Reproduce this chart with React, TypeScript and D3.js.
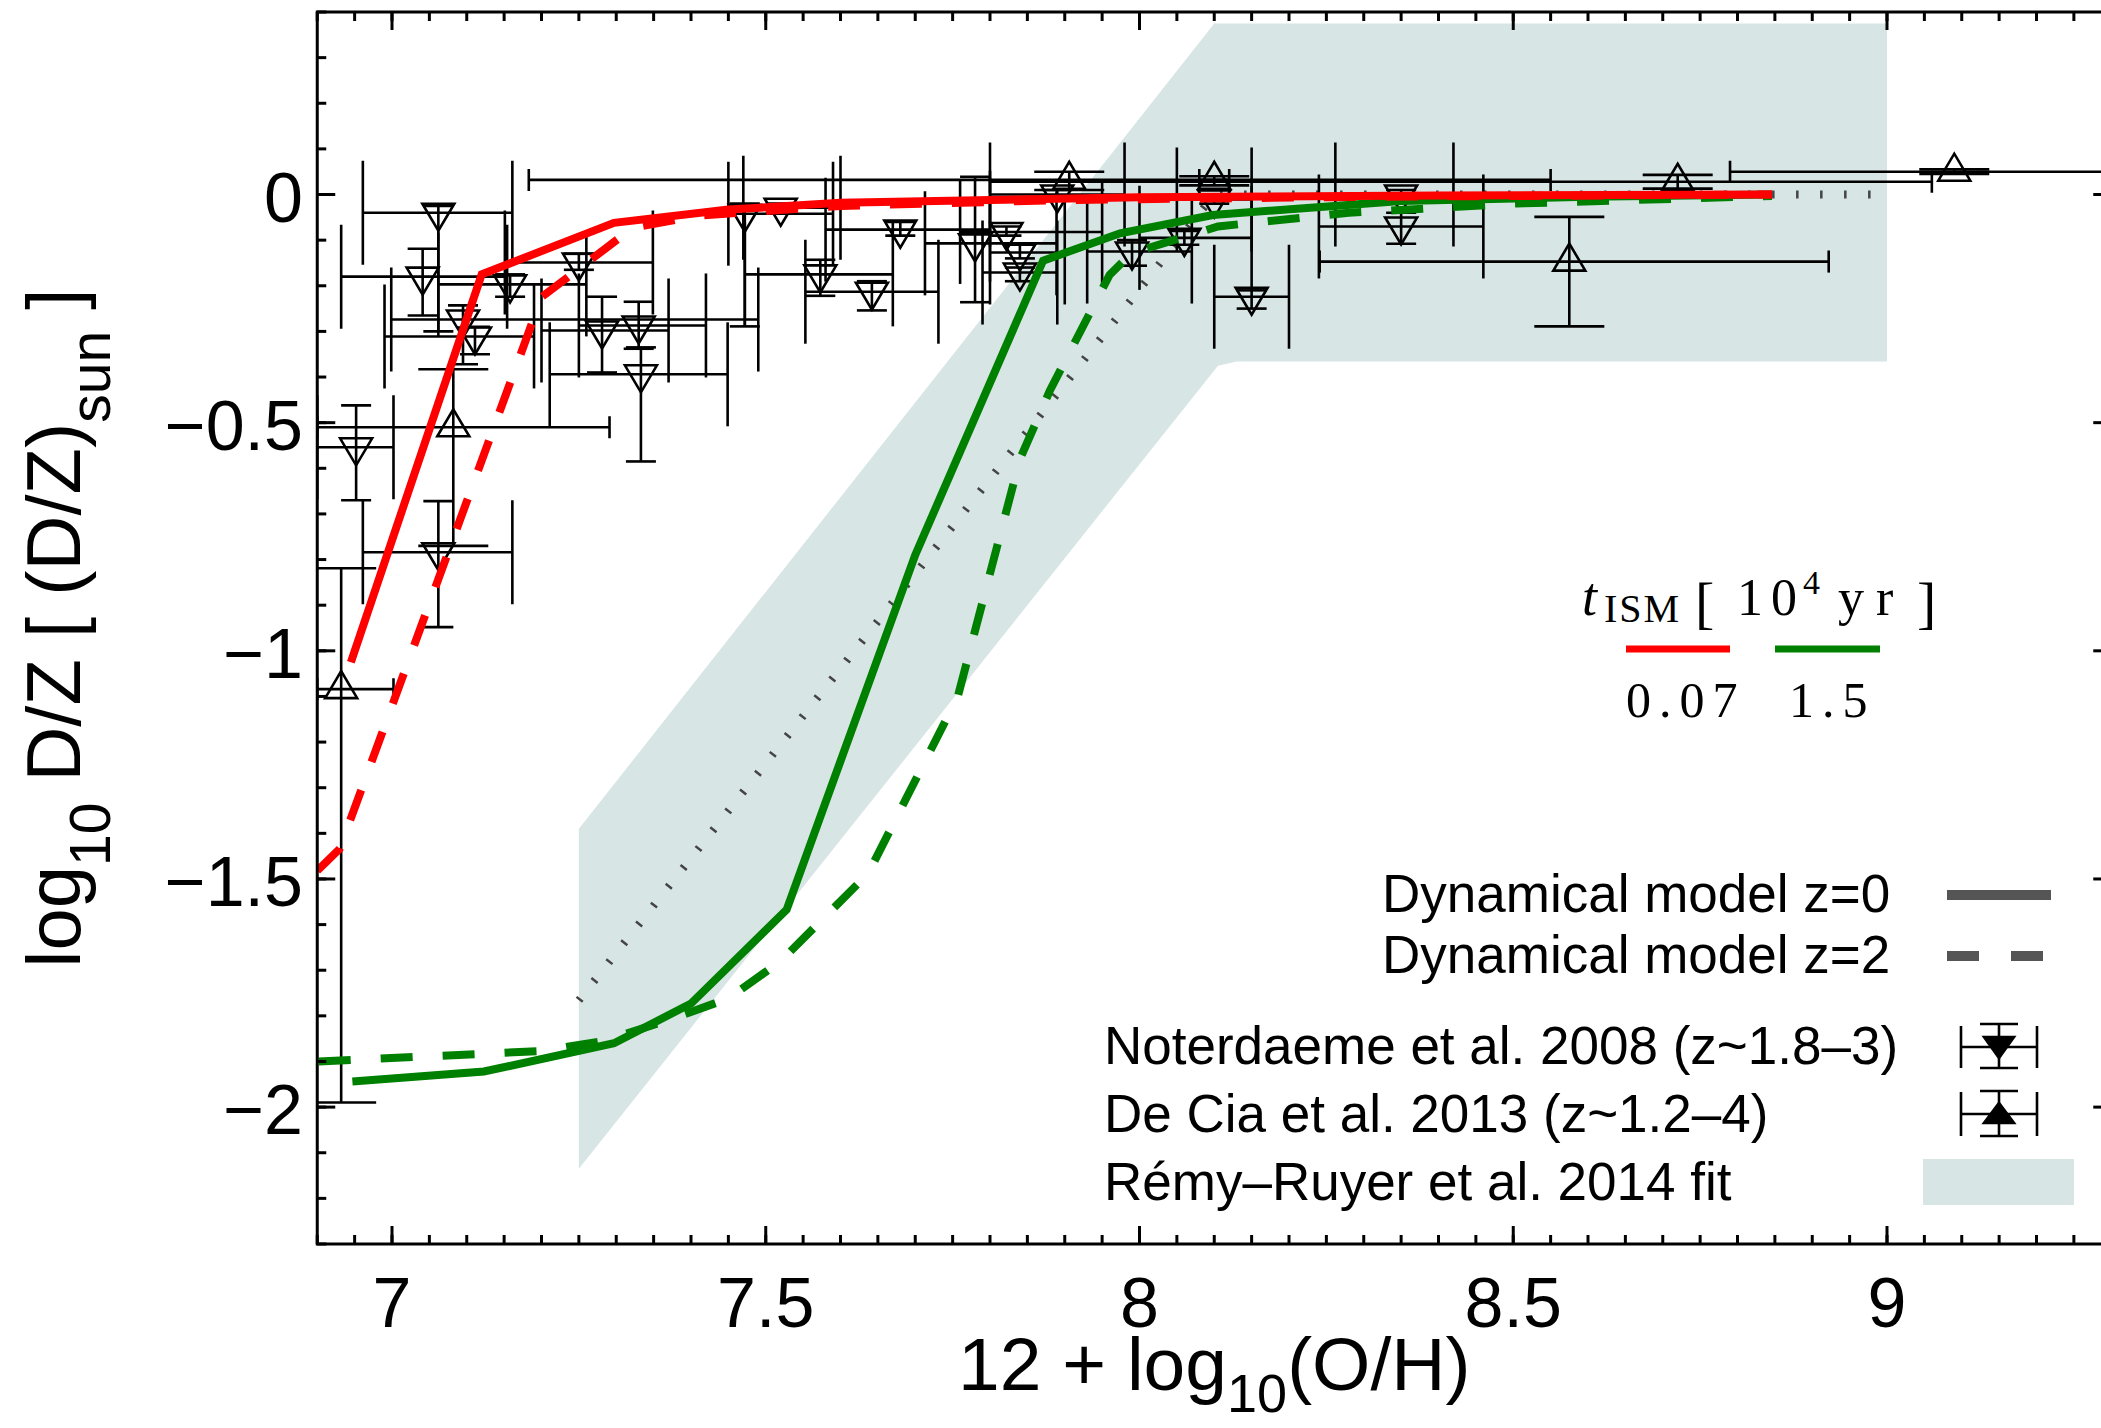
import * as d3 from "d3";
import React from "react";

// axis ranges and ticks
const xDomain = [6.9, 9.3];
const yDomain = [-2.3, 0.4];
const xMajor = [7, 7.5, 8, 8.5, 9];
const xMajorLabels = ["7", "7.5", "8", "8.5", "9"];
const yMajor = [0, -0.5, -1, -1.5, -2];
const yMajorLabels = ["0", "\u22120.5", "\u22121", "\u22121.5", "\u22122"];

// dynamical model, [12+log(O/H), log D/Z]
const redZ0 = [
  [6.945, -1.025], [7.12, -0.175], [7.297, -0.062], [7.45, -0.033],
  [7.6, -0.018], [8.0, -0.006], [8.4, -0.002], [8.846, 0.0],
];
const redZ2 = [
  [6.9, -1.482], [6.93, -1.434], [7.2, -0.225], [7.322, -0.073],
  [7.412, -0.046], [7.6, -0.025], [7.9, -0.012], [8.3, -0.005], [8.846, 0.0],
];
const greenZ0 = [
  [6.947, -1.944], [7.123, -1.922], [7.297, -1.86], [7.4, -1.773],
  [7.528, -1.567], [7.7, -0.79], [7.871, -0.145], [7.974, -0.085],
  [8.098, -0.045], [8.35, -0.014], [8.6, -0.005], [8.846, 0.0],
];
const greenZ2 = [
  [6.902, -1.9], [7.2, -1.877], [7.284, -1.855], [7.368, -1.81],
  [7.45, -1.762], [7.52, -1.68], [7.637, -1.488], [7.757, -1.1],
  [7.84, -0.58], [7.88, -0.43], [7.96, -0.176], [7.99, -0.128],
  [8.07, -0.088], [8.105, -0.07], [8.28, -0.04], [8.5, -0.02], [8.846, -0.003],
];

// Remy-Ruyer et al. 2014 fit: centre line and scatter band
const fitCentre = [[7.25, -1.766], [8.1, 0.0], [9.0, 0.0]];
const fitBand = [
  [7.25, -1.39], [8.1, 0.375], [9.0, 0.375], [9.0, -0.366],
  [8.13, -0.366], [8.105, -0.375], [7.25, -2.135],
];

// observations: [x, y, xlo, xhi, ylo, yhi]
const noterdaeme = [
  [7.062, -0.04, 6.961, 7.161, -0.3, -0.025],
  [7.041, -0.18, 6.932, 7.154, -0.265, -0.119],
  [7.095, -0.274, 6.999, 7.49, -0.372, -0.243],
  [7.111, -0.311, 6.99, 7.19, -0.35, -0.29],
  [7.158, -0.197, 7.062, 7.26, -0.224, -0.175],
  [7.25, -0.149, 7.151, 7.349, -0.165, -0.13],
  [7.281, -0.298, 7.2, 7.37, -0.39, -0.224],
  [7.33, -0.287, 7.25, 7.42, -0.338, -0.235],
  [7.333, -0.394, 7.211, 7.449, -0.585, -0.335],
  [6.952, -0.554, 6.9, 7.002, -0.67, -0.462],
  [7.062, -0.784, 6.961, 7.161, -0.948, -0.672],
  [7.472, -0.042, 7.45, 7.59, -0.289, -0.02],
  [7.52, -0.029, 7.47, 7.6, -0.04, -0.02],
  [7.573, -0.175, 7.472, 7.67, -0.222, -0.143],
  [7.642, -0.213, 7.553, 7.731, -0.254, -0.19],
  [7.68, -0.077, 7.58, 7.8, -0.09, -0.06],
  [7.78, -0.107, 7.713, 7.889, -0.236, 0.039],
  [7.822, -0.082, 7.76, 7.95, -0.09, -0.07],
  [7.84, -0.127, 7.8, 7.9, -0.14, -0.11],
  [7.84, -0.171, 7.79, 7.89, -0.19, -0.16],
  [7.89, 0.0, 7.8, 7.98, -0.01, 0.01],
  [8.1, -0.011, 8.05, 8.15, -0.02, 0.0],
  [8.35, 0.0, 8.262, 8.42, -0.01, 0.01],
  [8.35, -0.07, 8.24, 8.46, -0.108, -0.04],
  [8.06, -0.095, 8.0, 8.15, -0.11, -0.08],
  [8.15, -0.224, 8.1, 8.2, -0.25, -0.21],
  [7.99, -0.125, 7.93, 8.07, -0.156, -0.1],
];
const deCia = [
  [6.932, -1.084, 6.9, 7.002, -1.99, -0.819],
  [7.082, -0.51, 6.9, 7.291, -0.77, -0.383],
  [7.906, 0.032, 7.183, 8.55, 0.01, 0.05],
  [8.1, 0.032, 8.08, 8.12, 0.02, 0.04],
  [8.72, 0.028, 7.8, 9.06, 0.013, 0.043],
  [9.09, 0.05, 8.79, 9.5, 0.045, 0.055],
  [8.575, -0.147, 8.241, 8.922, -0.289, -0.049],
];

const PL = 317.25, PR = 2111.25, PT = 12, PB = 1244;
const sans = "'Liberation Sans', Arial, Helvetica, sans-serif";
const serif = "'Liberation Serif', 'Times New Roman', serif";

export default function App() {
  const xs = d3.scaleLinear().domain(xDomain).range([PL, PR]);
  const ys = d3.scaleLinear().domain(yDomain).range([PB, PT]);
  const line = d3.line().x((d) => xs(d[0])).y((d) => ys(d[1]));

  const xMinor = d3.range(6.9, 9.3001, 0.05);
  const yMinor = d3.range(-2.3, 0.4001, 0.1);

  const errorBar = (p, i, kind) => {
    const [x, y, xlo, xhi, ylo, yhi] = p;
    const cx = xs(x), cy = ys(y);
    const xCap = kind === "N" ? 52 : 11;
    const yCap = kind === "N" ? 15 : 35;
    const tri =
      kind === "N"
        ? `M${cx - 16},${cy - 9}L${cx + 16},${cy - 9}L${cx},${cy + 18}Z`
        : `M${cx - 16},${cy + 9}L${cx + 16},${cy + 9}L${cx},${cy - 18}Z`;
    return (
      <g key={kind + i}>
        <line x1={xs(xlo)} x2={xs(xhi)} y1={cy} y2={cy} />
        <line x1={xs(xlo)} x2={xs(xlo)} y1={cy - xCap} y2={cy + xCap} />
        <line x1={xs(xhi)} x2={xs(xhi)} y1={cy - xCap} y2={cy + xCap} />
        <line x1={cx} x2={cx} y1={ys(ylo)} y2={ys(yhi)} />
        <line x1={cx - yCap} x2={cx + yCap} y1={ys(ylo)} y2={ys(ylo)} />
        <line x1={cx - yCap} x2={cx + yCap} y1={ys(yhi)} y2={ys(yhi)} />
        <path d={tri} fill="none" />
      </g>
    );
  };

  return (
    <div style={{ position: "absolute", left: 0, top: 0 }}>
      <svg width={2101} height={1428} style={{ display: "block", background: "#fff" }}>
        <defs>
          <clipPath id="plotArea">
            <rect x={PL} y={PT} width={PR - PL} height={PB - PT} />
          </clipPath>
        </defs>

        <g clipPath="url(#plotArea)">
          <path d={line(fitBand) + "Z"} fill="#d8e5e5" stroke="none" />
          <path d={line(fitCentre)} fill="none" stroke="#444" strokeWidth={8} strokeDasharray="2.5 21.5" />
          <g stroke="#000" strokeWidth={2.6}>
            {noterdaeme.map((p, i) => errorBar(p, i, "N"))}
            {deCia.map((p, i) => errorBar(p, i, "D"))}
          </g>
          <g fill="none" strokeWidth={8}>
            <path d={line(greenZ2)} stroke="#008000" strokeDasharray="32 30" />
            <path d={line(greenZ0)} stroke="#008000" />
            <path d={line(redZ2)} stroke="#ff0000" strokeDasharray="32 30" />
            <path d={line(redZ0)} stroke="#ff0000" />
          </g>
        </g>

        {/* frame and ticks */}
        <g stroke="#000" strokeWidth={3}>
          <rect x={PL} y={PT} width={PR - PL} height={PB - PT} fill="none" />
          {xMinor.map((v, i) => (
            <g key={"xm" + i}>
              <line x1={xs(v)} x2={xs(v)} y1={PB} y2={PB - 9} />
              <line x1={xs(v)} x2={xs(v)} y1={PT} y2={PT + 9} />
            </g>
          ))}
          {xMajor.map((v) => (
            <g key={"xM" + v}>
              <line x1={xs(v)} x2={xs(v)} y1={PB} y2={PB - 18} />
              <line x1={xs(v)} x2={xs(v)} y1={PT} y2={PT + 18} />
            </g>
          ))}
          {yMinor.map((v, i) => (
            <g key={"ym" + i}>
              <line x1={PL} x2={PL + 9} y1={ys(v)} y2={ys(v)} />
              <line x1={PR} x2={PR - 9} y1={ys(v)} y2={ys(v)} />
            </g>
          ))}
          {yMajor.map((v) => (
            <g key={"yM" + v}>
              <line x1={PL} x2={PL + 18} y1={ys(v)} y2={ys(v)} />
              <line x1={PR} x2={PR - 18} y1={ys(v)} y2={ys(v)} />
            </g>
          ))}
        </g>

        <g fontFamily={sans} fontSize={70} fill="#000">
          {xMajor.map((v, i) => (
            <text key={"xl" + v} x={xs(v)} y={1327} textAnchor="middle">
              {xMajorLabels[i]}
            </text>
          ))}
          {yMajor.map((v, i) => (
            <text key={"yl" + v} x={303} y={ys(v) + 27} textAnchor="end">
              {yMajorLabels[i]}
            </text>
          ))}
        </g>

        {/* axis titles */}
        <text x={(PL + PR) / 2} y={1390} textAnchor="middle" fontFamily={sans} fontSize={75}>
          12 + log
          <tspan fontSize={54} dy={22}>10</tspan>
          <tspan dy={-22}>(O/H)</tspan>
        </text>
        <text transform={`translate(80,${(PT + PB) / 2}) rotate(-90)`} textAnchor="middle" fontFamily={sans} fontSize={76}>
          log
          <tspan fontSize={57} dy={30}>10</tspan>
          <tspan dy={-30}> D/Z [ (D/Z)</tspan>
          <tspan fontSize={57} dy={30}>sun</tspan>
          <tspan dy={-30}> ]</tspan>
        </text>

        {/* t_ISM legend */}
        <g fontFamily={serif} fill="#000">
          <text x={1582} y={615} fontSize={54} fontStyle="italic">t</text>
          <text x={1604} y={622} fontSize={40} letterSpacing={2}>ISM</text>
          <text x={1695} y={622} fontSize={58}>[</text>
          <text x={1737} y={615} fontSize={52} letterSpacing={8}>10</text>
          <text x={1803} y={594} fontSize={34}>4</text>
          <text x={1838} y={615} fontSize={52} letterSpacing={12}>yr</text>
          <text x={1917} y={622} fontSize={58}>]</text>
          <text x={1626} y={717} fontSize={50} letterSpacing={8}>0.07</text>
          <text x={1789} y={717} fontSize={50} letterSpacing={8}>1.5</text>
        </g>
        <line x1={1626} x2={1730} y1={649} y2={649} stroke="#ff0000" strokeWidth={7} />
        <line x1={1775} x2={1880} y1={649} y2={649} stroke="#008000" strokeWidth={7} />

        {/* main legend */}
        <g fontFamily={sans} fontSize={53} fill="#000">
          <text x={1382} y={912}>Dynamical model z=0</text>
          <text x={1382} y={973}>Dynamical model z=2</text>
          <text x={1104} y={1064}>Noterdaeme et al. 2008 (z~1.8{"\u2013"}3)</text>
          <text x={1104} y={1132}>De Cia et al. 2013 (z~1.2{"\u2013"}4)</text>
          <text x={1104} y={1200}>Rémy{"\u2013"}Ruyer et al. 2014 fit</text>
        </g>
        <line x1={1947} x2={2051} y1={895} y2={895} stroke="#555" strokeWidth={10} />
        <line x1={1947} x2={2051} y1={956} y2={956} stroke="#555" strokeWidth={10} strokeDasharray="32 32" />
        <g stroke="#000" strokeWidth={2.6}>
          <line x1={1961} x2={2037} y1={1047} y2={1047} />
          <line x1={1961} x2={1961} y1={1026} y2={1068} />
          <line x1={2037} x2={2037} y1={1026} y2={1068} />
          <line x1={1999} x2={1999} y1={1024} y2={1068} />
          <line x1={1980} x2={2018} y1={1024} y2={1024} />
          <line x1={1980} x2={2018} y1={1068} y2={1068} />
          <path d="M1984,1037L2014,1037L1999,1058Z" fill="#000" />
          <line x1={1961} x2={2037} y1={1114} y2={1114} />
          <line x1={1961} x2={1961} y1={1092} y2={1136} />
          <line x1={2037} x2={2037} y1={1092} y2={1136} />
          <line x1={1999} x2={1999} y1={1091} y2={1136} />
          <line x1={1980} x2={2018} y1={1091} y2={1091} />
          <line x1={1980} x2={2018} y1={1136} y2={1136} />
          <path d="M1984,1123L2014,1123L1999,1103Z" fill="#000" />
        </g>
        <rect x={1923} y={1159} width={151} height={46} fill="#d8e5e5" />
      </svg>
    </div>
  );
}
